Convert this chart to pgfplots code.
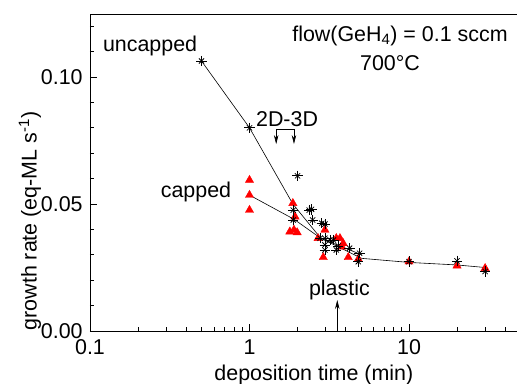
\documentclass[border=0pt]{standalone}
\usepackage{fontspec}
\setmainfont{Liberation Sans}
\usepackage{pgfplots}
\usepackage{pgfplotstable}
\pgfplotsset{compat=1.18}
\usetikzlibrary{arrows.meta}

\pgfplotstableread{
x y
0.50 0.1063
1.00 0.0800
2.00 0.0611
1.88 0.0476
1.88 0.0437
2.37 0.0476
2.45 0.0479
2.49 0.0437
2.84 0.0424
2.97 0.0421
2.77 0.0365
2.97 0.0365
2.97 0.0339
2.97 0.0319
3.20 0.0358
3.36 0.0358
3.50 0.0319
3.60 0.0335
4.24 0.0326
4.90 0.0306
4.81 0.0273
10 0.0273
20 0.0276
30 0.0234
}\uncapped

\pgfplotstableread{
x y
1.00 0.0594
1.00 0.0535
1.00 0.0476
1.87 0.0503
1.93 0.0450
1.79 0.0391
1.99 0.0388
1.90 0.0398
2.97 0.0398
2.69 0.0365
2.90 0.0290
3.50 0.0365
3.69 0.0365
3.78 0.0332
3.87 0.0345
4.16 0.0290
4.81 0.0283
10 0.0273
20 0.0257
30 0.0247
}\capped

\pgfplotstableread{
x y
0.50 0.1063
1.00 0.0800
1.87 0.0500
2.80 0.0365
5.05 0.0300
}\uncappedline

\pgfplotstableread{
x y
1.00 0.0535
1.90 0.0440
2.80 0.0365
5.05 0.0286
10 0.0270
20 0.0260
30 0.0250
}\cappedline

\newcommand{\bigfont}{\fontsize{21.5}{25}\selectfont}
\begin{document}
\bigfont
\begin{tikzpicture}
\begin{axis}[
  at={(0,0)}, anchor=south west,
  scale only axis, width=430.5bp, height=317bp,
  xmode=log, xmin=0.1, xmax=50, ymin=0, ymax=0.1248,
  xtick={0.1,1,10}, xticklabels={0.1,1,10},
  minor xtick={0.2,0.3,0.4,0.5,0.6,0.7,0.8,0.9,2,3,4,5,6,7,8,9,20,30,40},
  ytick={0,0.05,0.1},
  minor ytick={0.01,0.02,0.03,0.04,0.06,0.07,0.08,0.09,0.11,0.12},
  yticklabel style={/pgf/number format/.cd, fixed, fixed zerofill, precision=2},
  /pgf/number format/assume math mode=true,
  scaled y ticks=false,
  tick align=inside, xtick pos=left, ytick pos=left,
  major tick length=7bp, minor tick length=4bp,
  every tick/.style={black, line width=0.6bp},
  axis line style={line width=0.8bp},
  tick label style={font=\bigfont},
  xticklabel style={yshift=-1bp},
  label style={font=\bigfont},
  xlabel={deposition time (min)},
  ylabel={growth rate (eq-ML s\textsuperscript{-1})},
  every axis x label/.style={at={(rel axis cs:0.52,0)}, anchor=base, yshift=-49bp},
  every axis y label/.style={at={(rel axis cs:0,0.347)}, rotate=90, anchor=center, yshift=60bp},
]
\addplot[black, line width=0.6bp, no markers] table {\uncappedline};
\addplot[black, line width=0.6bp, no markers] table {\cappedline};
\addplot[only marks, mark=triangle*, mark size=4.8, red, mark options={fill=red, draw=red}] table {\capped};
\addplot[only marks, mark=+, mark size=5.2, black, mark options={line width=0.75bp}] table {\uncapped};
\addplot[only marks, mark=x, mark size=3.7, black, mark options={line width=0.75bp}] table {\uncapped};

\node at (axis cs:0.238,0.1122) {uncapped};
\node at (axis cs:8.78,0.1161) {flow(GeH\textsubscript{4}) = 0.1 sccm};
\node at (axis cs:7.6,0.1055) {700°C};
\node at (axis cs:1.72,0.0835) {2D-3D};
\node at (axis cs:0.462,0.0547) {capped};
\node at (axis cs:3.66,0.0161) {plastic};
\draw[line width=0.6bp, {Stealth[length=9bp,width=4.5bp]}-{Stealth[length=9bp,width=4.5bp]}]
  (axis cs:1.47,0.0736) -- (axis cs:1.47,0.0794) -- (axis cs:1.90,0.0794) -- (axis cs:1.90,0.0736);
\draw[line width=0.6bp, -{Stealth[length=9bp,width=4.5bp]}] (axis cs:3.55,0) -- (axis cs:3.55,0.0122);
\end{axis}
\pgfresetboundingbox
\path[use as bounding box] (-90bp,-53bp) rectangle (427bp,331bp);
\end{tikzpicture}
\end{document}
